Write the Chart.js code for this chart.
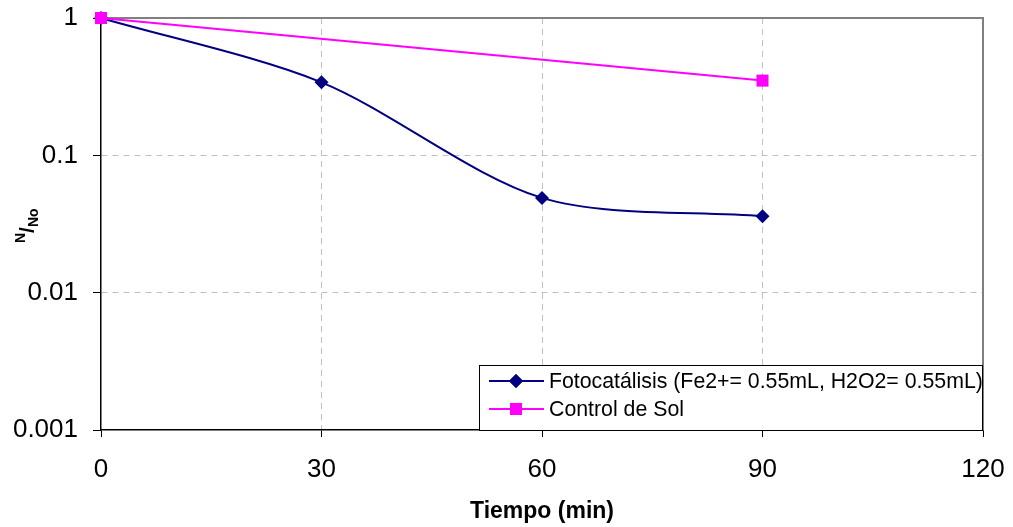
<!DOCTYPE html>
<html>
<head>
<meta charset="utf-8">
<script src="https://cdn.jsdelivr.net/npm/chart.js@4/dist/chart.umd.min.js"></script>
<style>
  html, body { margin: 0; padding: 0; background: #fff; }
</style>
</head>
<body>
<canvas id="grafica" width="1013" height="527"></canvas>
<script>
// tiempos de muestreo (min) y N/No de cada serie
var tiempo = [0, 30, 60, 90];
var fotocatalisis = [1, 0.34, 0.049, 0.036];
var tiempoControl = [0, 90];
var controlSol = [1, 0.35];

var ticksX = [0, 30, 60, 90, 120];
var ticksY = [0.001, 0.01, 0.1, 1];

var nombres = ['Fotocatálisis (Fe2+= 0.55mL, H2O2= 0.55mL)', 'Control de Sol'];
var colores = ['#000080', '#FF00FF'];

var fuente = '"Liberation Sans", Arial, sans-serif';

function puntos(xs, ys) {
	return xs.map(function (x, i) { return { x: x, y: ys[i] }; });
}

// marco gris, leyenda dentro del area y titulo del eje Y
var extras = {
	id: 'extras',
	beforeDatasetsDraw: function (chart) {
		var a = chart.chartArea;
		var ctx = chart.ctx;
		ctx.save();
		ctx.strokeStyle = '#808080';
		ctx.lineWidth = 2;
		ctx.beginPath();
		ctx.moveTo(a.left, a.top);
		ctx.lineTo(a.right, a.top);
		ctx.lineTo(a.right, a.bottom);
		ctx.stroke();
		ctx.restore();
	},
	afterDraw: function (chart) {
		var ctx = chart.ctx;
		var a = chart.chartArea;
		ctx.save();

		// leyenda
		var x0 = 479, y0 = 365, x1 = a.right, y1 = a.bottom;
		ctx.fillStyle = '#fff';
		ctx.fillRect(x0, y0, x1 - x0, y1 - y0);
		ctx.strokeStyle = '#000';
		ctx.lineWidth = 1;
		ctx.strokeRect(x0 + 0.5, y0 + 0.5, x1 - x0 - 1, y1 - y0);
		var filas = [381, 409];
		ctx.font = '21.3px ' + fuente;
		ctx.textBaseline = 'middle';
		ctx.textAlign = 'left';
		for (var i = 0; i < 2; i++) {
			var y = filas[i];
			ctx.strokeStyle = colores[i];
			ctx.lineWidth = 2;
			ctx.beginPath();
			ctx.moveTo(489, y);
			ctx.lineTo(544, y);
			ctx.stroke();
			ctx.fillStyle = colores[i];
			if (i === 0) {
				Chart.helpers.drawPoint(ctx, { pointStyle: 'rectRot', radius: 7, borderWidth: 0 }, 516, y);
				ctx.fill();
			} else {
				ctx.fillRect(510, y - 6, 12, 12);
			}
			ctx.fillStyle = '#000';
			ctx.fillText(nombres[i], 549, y + 1);
		}

		// titulo del eje Y: N/No
		ctx.translate(20, 228);
		ctx.rotate(-Math.PI / 2);
		ctx.fillStyle = '#000';
		ctx.textBaseline = 'alphabetic';
		var px = -15;
		ctx.font = 'bold 14px ' + fuente;
		ctx.fillText('N', px, 5);
		px += ctx.measureText('N').width;
		ctx.font = 'bold 21px ' + fuente;
		ctx.fillText('/', px, 14);
		px += ctx.measureText('/').width;
		ctx.font = 'bold 14px ' + fuente;
		ctx.fillText('No', px, 18);
		ctx.restore();
	}
};

var ctx = document.getElementById('grafica').getContext('2d');
var grafica = new Chart(ctx, {
	type: 'line',
	data: {
		datasets: [{
			label: nombres[1],
			data: puntos(tiempoControl, controlSol),
			borderColor: colores[1],
			backgroundColor: colores[1],
			borderWidth: 2,
			pointStyle: 'rect',
			pointRadius: 8.5,
			pointBorderWidth: 0,
			tension: 0,
			clip: false
		}, {
			label: nombres[0],
			data: puntos(tiempo, fotocatalisis),
			borderColor: colores[0],
			backgroundColor: colores[0],
			borderWidth: 2,
			pointStyle: 'rectRot',
			pointRadius: 7,
			pointBorderWidth: 0,
			tension: 0.3,
			clip: false
		}]
	},
	options: {
		responsive: false,
		animation: false,
		devicePixelRatio: 1,
		layout: { padding: { left: 0, right: 30, top: 18, bottom: 0 } },
		plugins: {
			legend: { display: false },
			tooltip: { enabled: false }
		},
		scales: {
			x: {
				type: 'linear',
				min: 0,
				max: 120,
				afterBuildTicks: function (scale) {
					scale.ticks = ticksX.map(function (v) { return { value: v }; });
				},
				afterFit: function (scale) {
					scale.height = 97;
					scale.paddingLeft = 0;
					scale.paddingRight = 0;
				},
				ticks: {
					color: '#000',
					font: { family: fuente, size: 26 },
					padding: 17,
					maxRotation: 0
				},
				grid: {
					color: function (c) {
						return (c.tick && (c.tick.value === 0 || c.tick.value === 120)) ? 'rgba(0,0,0,0)' : '#c0c0c0';
					},
					tickColor: '#000',
					tickBorderDash: [],
					tickLength: 7,
					lineWidth: 1
				},
				border: { color: '#000', width: 1.5, dash: [6, 5] },
				title: {
					display: true,
					text: 'Tiempo (min)',
					color: '#000',
					font: { family: fuente, size: 23, weight: 'bold' },
					padding: { top: 0, bottom: 2 }
				}
			},
			y: {
				type: 'logarithmic',
				min: 0.001,
				max: 1,
				afterBuildTicks: function (scale) {
					scale.ticks = ticksY.map(function (v) { return { value: v }; });
				},
				afterFit: function (scale) {
					scale.width = 101;
					scale.paddingTop = 0;
					scale.paddingBottom = 0;
				},
				ticks: {
					color: '#000',
					font: { family: fuente, size: 26 },
					padding: 15,
					callback: function (v) { return String(v); }
				},
				grid: {
					color: function (c) {
						return (c.tick && (c.tick.value === 1 || c.tick.value === 0.001)) ? 'rgba(0,0,0,0)' : '#c0c0c0';
					},
					tickColor: '#000',
					tickBorderDash: [],
					tickLength: 8,
					lineWidth: 1
				},
				border: { color: '#000', width: 1.5, dash: [6, 5] }
			}
		}
	},
	plugins: [extras]
});
</script>
</body>
</html>
